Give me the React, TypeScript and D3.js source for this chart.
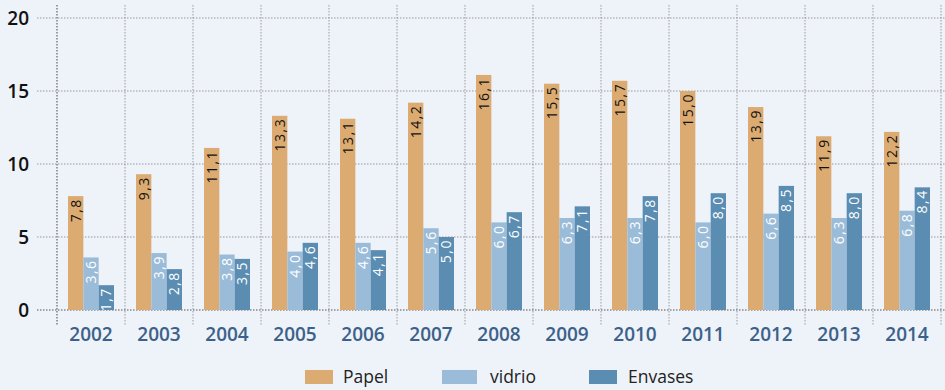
import React from "react";
import * as d3 from "d3";

const years = ["2002","2003","2004","2005","2006","2007","2008","2009","2010","2011","2012","2013","2014"];
const papel = [7.8, 9.3, 11.1, 13.3, 13.1, 14.2, 16.1, 15.5, 15.7, 15.0, 13.9, 11.9, 12.2];
const vidrio = [3.6, 3.9, 3.8, 4.0, 4.6, 5.6, 6.0, 6.3, 6.3, 6.0, 6.6, 6.3, 6.8];
const envases = [1.7, 2.8, 3.5, 4.6, 4.1, 5.0, 6.7, 7.1, 7.8, 8.0, 8.5, 8.0, 8.4];
const yTicks = [0, 5, 10, 15, 20];
const seriesNames = ["Papel", "vidrio", "Envases"];
const colors = ["#dcab72", "#9bbcd9", "#5a8db1"];
const labelColors = ["#111", "#fff", "#fff"];

const W = 945, H = 390;
const font = "'Open Sans', 'Noto Sans', sans-serif";

export default function App() {
  const x = d3.scaleBand<string>().domain(years).range([57, 941]).paddingInner(0).paddingOuter(0);
  const inner = d3.scaleBand<string>().domain(seriesNames).range([11, x.bandwidth() - 11]).padding(0);
  const y = d3.scaleLinear().domain([0, 20]).range([310, 18]);
  const data = [papel, vidrio, envases];
  const fmt = (v: number) => v.toFixed(1).replace(".", ",");

  return (
    <svg width={W} height={H} style={{ position: "absolute", left: 0, top: 0, background: "#eef2f9" }}>
      <rect x={0} y={0} width={W} height={H} fill="#eef2f9" />
      {years.map((yr, i) => (
        <line key={"v" + yr} x1={x(yr)!} x2={x(yr)!} y1={5} y2={325}
          stroke={i === 0 ? "#444" : "#999"} strokeWidth={1} strokeDasharray="1.5,1.5" />
      ))}
      <line x1={941} x2={941} y1={5} y2={325} stroke="#999" strokeDasharray="1.5,1.5" />
      {yTicks.map((t) => (
        <line key={"h" + t} x1={37} x2={945} y1={y(t)} y2={y(t)}
          stroke={t === 0 ? "#555" : "#999"} strokeWidth={1} strokeDasharray="1.5,1.5" />
      ))}
      {yTicks.map((t) => (
        <text key={"yt" + t} x={29} y={y(t)} dy="0.36em" textAnchor="end"
          fontFamily={font} fontWeight={600} fontSize={19} fill="#111">{t}</text>
      ))}
      {years.map((yr, i) => (
        <g key={yr} transform={`translate(${x(yr)},0)`}>
          {seriesNames.map((s, k) => {
            const v = data[k][i];
            const bx = inner(s)!;
            const bw = inner.bandwidth();
            const top = y(v);
            return (
              <g key={s}>
                <rect x={bx} y={top} width={bw} height={y(0) - top} fill={colors[k]} />
                <text transform={`translate(${bx + bw / 2},${top + 2}) rotate(-90)`}
                  textAnchor="end" dy="0.36em" fontFamily={font} fontSize={14}
                  fill={labelColors[k]} letterSpacing={1.5}>{fmt(v)}</text>
              </g>
            );
          })}
          <text x={x.bandwidth() / 2} y={341} textAnchor="middle" fontFamily={font}
            fontWeight={600} fontSize={19} fill="#3b6189">{yr}</text>
        </g>
      ))}
      {[
        { sx: 305, sw: 28, tx: 343 },
        { sx: 442, sw: 35, tx: 490 },
        { sx: 589, sw: 28, tx: 628 },
      ].map((l, k) => (
        <g key={"lg" + k}>
          <rect x={l.sx} y={370} width={l.sw} height={14} fill={colors[k]} />
          <text x={l.tx} y={383} fontFamily={font} fontSize={17.5} fill="#222">{seriesNames[k]}</text>
        </g>
      ))}
    </svg>
  );
}
